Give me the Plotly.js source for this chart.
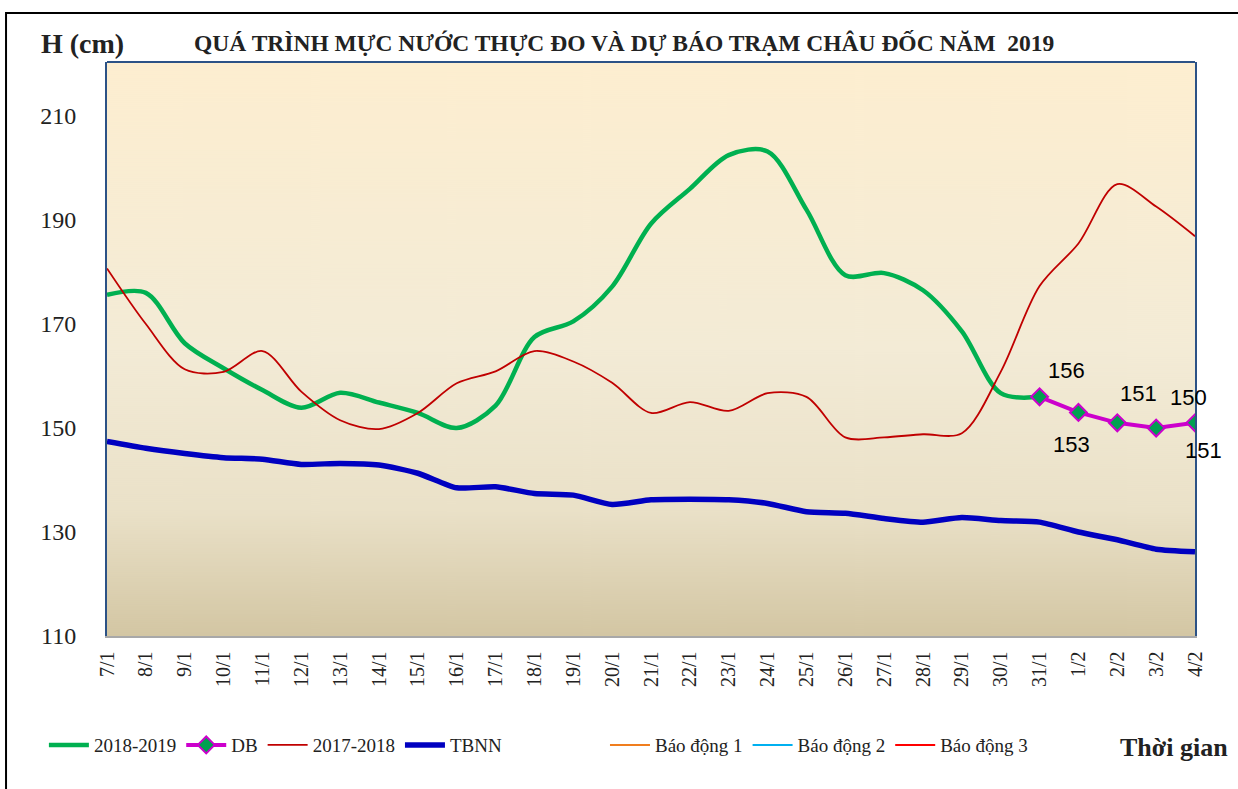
<!DOCTYPE html>
<html>
<head>
<meta charset="utf-8">
<script src="https://cdn.plot.ly/plotly-3.0.1.min.js"></script>
<style>
  body { margin: 0; background: #fff; }
  #chart { width: 1238px; height: 789px; }
</style>
</head>
<body>
<div id="chart"></div>
<script>
// Ngay quan trac (7/1 -> 4/2)
var days = ["7/1", "8/1", "9/1", "10/1", "11/1", "12/1", "13/1", "14/1", "15/1", "16/1",
    "17/1", "18/1", "19/1", "20/1", "21/1", "22/1", "23/1", "24/1", "25/1", "26/1",
    "27/1", "28/1", "29/1", "30/1", "31/1", "1/2", "2/2", "3/2", "4/2"];

// muc nuoc thuc do 2018-2019 (cm)
var h20182019 = [175.6, 176.0, 166.3, 161.5, 157.3, 153.9, 156.8, 154.9, 152.9, 150.0,
    154.3, 167.5, 170.5, 177.2, 189.3, 196.0, 202.5, 203.2, 192.0, 179.4,
    179.8, 176.5, 168.6, 156.7, 156.0, null, null, null, null];

// du bao (DB)
var hDB = [null, null, null, null, null, null, null, null, null, null,
    null, null, null, null, null, null, null, null, null, null,
    null, null, null, null, 156, 153, 151, 150, 151];

// cung ky 2017-2018
var h20172018 = [180.7, 170.0, 161.3, 160.8, 164.8, 157.0, 151.5, 149.8, 152.9, 158.6,
    160.9, 164.8, 162.8, 158.7, 152.9, 155.0, 153.3, 156.7, 156.0, 148.2,
    148.2, 148.8, 149.0, 160.8, 177.3, 185.5, 196.9, 192.6, 186.9];

// trung binh nhieu nam
var hTBNN = [147.4, 146.1, 145.1, 144.3, 144.0, 143.0, 143.2, 142.9, 141.3, 138.5,
    138.7, 137.4, 137.1, 135.3, 136.2, 136.3, 136.2, 135.5, 133.9, 133.6,
    132.6, 131.9, 132.8, 132.2, 131.9, 130.0, 128.5, 126.7, 126.2];

// muc bao dong tram Chau Doc (cm) - nam ngoai khung hinh
var baoDong1 = days.map(d => 350);
var baoDong2 = days.map(d => 400);
var baoDong3 = days.map(d => 450);

// nhan so lieu du bao: dich chuyen (px)
var dbShiftX = [27, -7, 21, 32, 8];
var dbShiftY = [26, -32, 29, 31, -28];

var serif = "Liberation Serif, Times New Roman, serif";

var trace1 = {
    x: days, y: h20182019, type: "scatter", mode: "lines", name: "2018-2019",
    line: { color: "#00B050", width: 4.5, shape: "spline", smoothing: 0.9 }
}
var trace2 = {
    x: days, y: hDB, type: "scatter", mode: "lines+markers", name: "DB",
    line: { color: "#CC00CC", width: 4 },
    marker: { symbol: "diamond", size: 13, color: "#00A050", line: { color: "#CC00CC", width: 2 } }
}
var trace3 = {
    x: days, y: h20172018, type: "scatter", mode: "lines", name: "2017-2018",
    line: { color: "#C00000", width: 1.8, shape: "spline", smoothing: 0.9 }
}
var trace4 = {
    x: days, y: hTBNN, type: "scatter", mode: "lines", name: "TBNN",
    line: { color: "#0000C0", width: 5.5, shape: "spline", smoothing: 0.6 }
}
// cac muc bao dong: chu giai rieng (legend2)
var trace5 = {
    x: days, y: baoDong1, type: "scatter", mode: "lines", name: "Báo động 1", legend: "legend2",
    line: { color: "#F07E1E", width: 2 }
}
var trace6 = {
    x: days, y: baoDong2, type: "scatter", mode: "lines", name: "Báo động 2", legend: "legend2",
    line: { color: "#00B0F0", width: 2 }
}
var trace7 = {
    x: days, y: baoDong3, type: "scatter", mode: "lines", name: "Báo động 3", legend: "legend2",
    line: { color: "#FF0000", width: 2 }
}

var data = [trace1, trace2, trace3, trace4, trace5, trace6, trace7]

// nen chuyen mau cua vung ve
var cv = document.createElement("canvas");
cv.width = 8; cv.height = 574;
var ctx = cv.getContext("2d");
var grad = ctx.createLinearGradient(0, 0, 0, 574);
grad.addColorStop(0, "#FDEED0");
grad.addColorStop(0.5, "#F3EBD6");
grad.addColorStop(0.78, "#EAE1C8");
grad.addColorStop(1, "#D3C6A3");
ctx.fillStyle = grad;
ctx.fillRect(0, 0, 8, 574);

// nhan so lieu DB
var annos = [];
var k = 0;
hDB.forEach(function (v, i) {
    if (v === null) return;
    annos.push({
        x: days[i], y: v, xref: "x", yref: "y", text: String(v), showarrow: false,
        xshift: dbShiftX[k], yshift: dbShiftY[k],
        font: { family: "Liberation Sans, Arial, sans-serif", size: 22, color: "#000" }
    });
    k++;
});

annos.push({
    xref: "paper", yref: "paper", x: -0.0625, y: 1.033, xanchor: "left", yanchor: "middle",
    text: "<b>H (cm)</b>", showarrow: false,
    font: { family: serif, size: 28, color: "#222" }
});
annos.push({
    xref: "paper", yref: "paper", x: 0.078, y: 1.033, xanchor: "left", yanchor: "middle",
    text: "<b>QUÁ TRÌNH MỰC NƯỚC THỰC ĐO VÀ DỰ BÁO TRẠM CHÂU ĐỐC NĂM  2019</b>", showarrow: false,
    font: { family: serif, size: 23.5, color: "#222" }
});
annos.push({
    xref: "paper", yref: "paper", x: 0.929, y: -0.195, xanchor: "left", yanchor: "middle",
    text: "<b>Thời gian</b>", showarrow: false,
    font: { family: serif, size: 26, color: "#222" }
});

var legendFont = { family: serif, size: 19, color: "#222" };

var layout = {
    width: 1238,
    height: 789,
    margin: { l: 107, r: 43, t: 62, b: 153 },
    paper_bgcolor: "#ffffff",
    plot_bgcolor: "rgba(0,0,0,0)",
    showlegend: true,
    legend: {
        orientation: "h", x: -0.058, y: -0.19, xanchor: "left", yanchor: "middle",
        font: legendFont, bgcolor: "rgba(0,0,0,0)", itemwidth: 40
    },
    legend2: {
        orientation: "h", x: 0.4577, y: -0.19, xanchor: "left", yanchor: "middle",
        font: legendFont, bgcolor: "rgba(0,0,0,0)", itemwidth: 40
    },
    xaxis: {
        type: "category", range: [0, 28], tickangle: -90,
        showgrid: false, zeroline: false, ticks: "",
        showline: true, linecolor: "#A8A8A8", linewidth: 1.5,
        tickfont: { family: serif, size: 20, color: "#222" },
        ticklabelstandoff: 6
    },
    yaxis: {
        range: [110, 220.4], tickvals: [110, 130, 150, 170, 190, 210],
        showgrid: false, zeroline: false, ticks: "",
        showline: true, mirror: true, linecolor: "#2C5286", linewidth: 2,
        tickfont: { family: serif, size: 24, color: "#222" },
        ticklabelstandoff: 24
    },
    images: [{
        source: cv.toDataURL(), xref: "paper", yref: "paper",
        x: 0, y: 1, sizex: 1, sizey: 1, sizing: "stretch", layer: "below"
    }],
    shapes: [
        // duong vien tren cua vung ve
        { type: "line", xref: "paper", yref: "paper", x0: 0, x1: 1, y0: 1, y1: 1,
          line: { color: "#2C5286", width: 2 } },
        // khung ngoai bieu do
        { type: "rect", xref: "paper", yref: "paper", x0: -0.0928, x1: 1.3, y0: -0.4, y1: 1.0854,
          line: { color: "#000", width: 2 } }
    ],
    annotations: annos
}

Plotly.newPlot("chart", data, layout, { staticPlot: true })
</script>
</body>
</html>
